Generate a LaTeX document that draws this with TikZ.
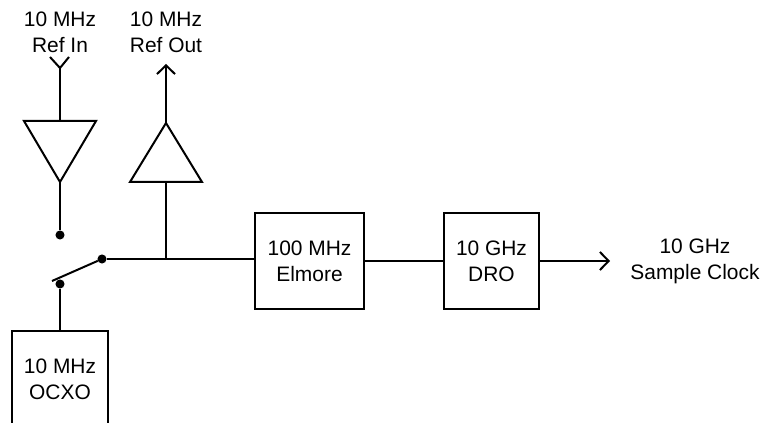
\documentclass[tikz,border=0pt]{standalone}
\usepackage{fontspec}
\setmainfont{Liberation Sans}
\usetikzlibrary{arrows.meta}
\tikzstyle{dot}=[circle,fill=black, minimum size = 6.8pt, inner sep=0pt, outer sep=0pt]
\tikzstyle{blockbox}=[draw, minimum height = 72pt, inner sep=0pt, align=center]
\tikzstyle{lbl}=[align=center, inner sep=0pt]
\tikzstyle{tip}=[-{Straight Barb[length=6.5pt,width=13.5pt,line width=1.5pt]}]

\begin{document}
\begin{tikzpicture}[x=.75pt,y=-.75pt,line width=1.5pt,font=\fontsize{15.7pt}{19.5pt}\selectfont]

    \useasboundingbox (0,0) rectangle (772,423);
    \clip (0,0) rectangle (772,423);

    %blocks
    \node [blockbox, minimum width = 72pt] (ocxo) at (60,379) {10 MHz\\OCXO};
    \node [blockbox, minimum width = 81.75pt] (elmore) at (309.5,261) {100 MHz\\Elmore};
    \node [blockbox, minimum width = 71.25pt] (dro) at (491.5,261) {10 GHz\\DRO};

    %labels
    \node [lbl] (refin) at (60,32) {10 MHz\\Ref In};
    \node [lbl] (refout) at (166,32) {10 MHz\\Ref Out};
    \node [lbl] (clock) at (695,261) {10 GHz\\Sample Clock};

    %switch
    \node [dot] (contact) at (60,235) {};
    \node [dot] (common) at (60,284) {};
    \node [dot] (pole) at (102,259) {};
    \coordinate (arm) at (52,281);
    \coordinate (tee) at (166,259);
    \draw (pole) -- (arm);
    \draw (common) -- (ocxo.north);
    \draw (pole) -- (tee) -- (elmore.west |- tee);

    %ref in
    \coordinate (intop) at (60,121);
    \coordinate (intip) at (60,182);
    \coordinate (fork) at (60,68);
    \coordinate (forkl) at (50,57);
    \coordinate (forkr) at (69,57);
    \draw (24,121) -- (96,121) -- (intip) -- cycle;
    \draw (forkl) -- (fork) -- (forkr);
    \draw (fork) -- (intop);
    \draw (intip) -- (contact);

    %ref out
    \coordinate (outtip) at (166,123);
    \coordinate (outbase) at (166,182);
    \coordinate (outend) at (166,64);
    \draw (130,182) -- (202,182) -- (outtip) -- cycle;
    \draw [tip] (outtip) -- (outend);
    \draw (tee) -- (outbase);

    %clock
    \coordinate (clockend) at (610,261);
    \draw (elmore) -- (dro);
    \draw [tip] (dro) -- (clockend);

\end{tikzpicture}
\end{document}
